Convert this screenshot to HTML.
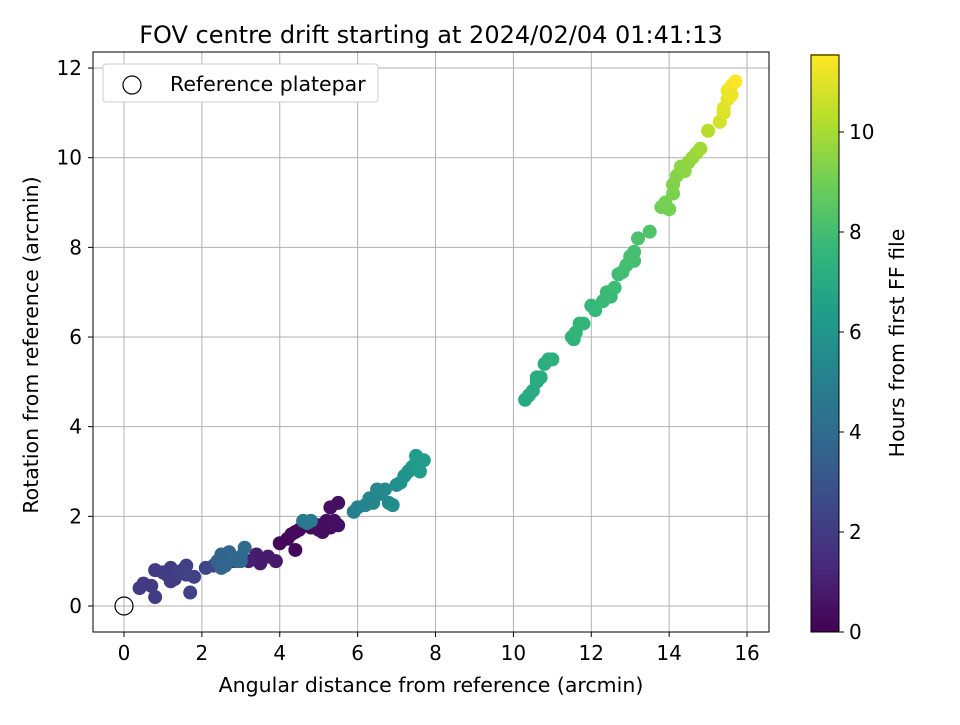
<!DOCTYPE html>
<html><head><meta charset="utf-8"><style>
body{margin:0;background:#fff;font-family:"Liberation Sans","DejaVu Sans",sans-serif}
svg text{font-family:"DejaVu Sans","Liberation Sans",sans-serif;fill:#000}
</style></head><body>
<svg id="c" width="960" height="720" xmlns="http://www.w3.org/2000/svg">
<rect width="960" height="720" fill="#fff"/>
<text x="431" y="43" font-size="24" text-anchor="middle">FOV centre drift starting at 2024/02/04 01:41:13</text>
<g id="grid"></g><g id="pts"></g>
<rect x="93" y="52" width="676" height="580" fill="none" stroke="#000" stroke-width="1"/>
<g id="ticks"></g>
<text x="431" y="692" font-size="20.5" text-anchor="middle">Angular distance from reference (arcmin)</text>
<text transform="translate(38,345) rotate(-90)" font-size="20.5" text-anchor="middle">Rotation from reference (arcmin)</text>
<g>
<rect x="103" y="64" width="275" height="38" rx="3" fill="#fff" stroke="#ccc"/>
<circle cx="132" cy="85" r="9" fill="none" stroke="#000" stroke-width="1.2"/>
<text x="170" y="91" font-size="20.5">Reference platepar</text>
</g>
<g id="cbar"></g>
<text transform="translate(904,343) rotate(-90)" font-size="20.5" text-anchor="middle">Hours from first FF file</text>
</svg>
<script>
const xs=[4,4.2,4.3,4.4,4.5,4.8,5,5.1,5.2,5.3,5.4,5.5,5.5,5.3,5.0,4.4,3.9,3.5,3.7,3.4,3.2,2.8,
0.4,0.5,0.7,0.8,0.8,1.0,1.1,1.2,1.2,1.3,1.4,1.5,1.6,1.6,1.7,1.8,2.1,2.3,
2.4,2.5,2.5,2.6,2.7,2.8,3.0,3.1,3.0,2.9,
4.6,4.7,4.8,5.9,6.0,6.2,6.4,6.6,6.7,6.8,6.9,7.0,7.1,7.2,7.3,7.4,7.5,7.5,7.6,7.7,6.5,6.3,
10.3,10.4,10.5,10.6,10.7,10.8,10.9,11.0,10.6,11.5,11.6,11.7,11.8,12.0,12.1,12.3,12.4,12.6,12.7,12.8,12.9,13.0,13.1,13.2,13.5,12.5,11.55,13.1,
13.8,13.9,14.0,14.1,14.1,14.2,14.3,14.4,14.5,14.6,14.7,14.8,15.0,
15.3,15.4,15.4,15.5,15.5,15.6,15.7,15.6];
const ys=[1.4,1.5,1.6,1.65,1.7,1.75,1.8,1.65,1.9,2.2,1.9,2.3,1.8,1.75,1.7,1.25,1.0,0.95,1.1,1.15,1.0,1.0,
0.4,0.5,0.45,0.2,0.8,0.75,0.7,0.85,0.55,0.6,0.75,0.8,0.9,0.7,0.3,0.65,0.85,0.9,
1.0,1.15,0.85,0.9,1.2,1.05,1.1,1.3,1.0,1.0,
1.9,1.85,1.9,2.1,2.2,2.25,2.3,2.5,2.6,2.3,2.25,2.7,2.75,2.9,3.0,3.1,3.2,3.35,3.0,3.25,2.6,2.4,
4.6,4.7,4.8,5.0,5.1,5.4,5.5,5.5,5.1,6.0,6.1,6.3,6.3,6.7,6.6,6.8,7.0,7.1,7.4,7.45,7.6,7.8,7.9,8.2,8.35,6.9,5.95,7.7,
8.9,9.0,8.85,9.2,9.4,9.6,9.8,9.7,9.9,10.0,10.1,10.2,10.6,
10.8,11.0,11.1,11.3,11.5,11.6,11.7,11.4];
const hs=[0.2,0.2,0.25,0.3,0.3,0.35,0.4,0.4,0.4,0.5,0.5,0.5,0.45,0.45,0.4,0.2,0.8,0.9,0.9,0.9,1.0,1.1,
2.0,2.0,2.0,2.1,2.0,2.0,2.1,2.0,2.1,2.1,2.2,2.2,2.2,2.3,2.3,2.3,2.4,2.5,
3.6,3.7,3.7,3.8,3.8,3.9,3.9,4.0,4.0,3.8,
4.6,4.7,4.7,5.0,5.1,5.2,5.3,5.4,5.5,5.5,5.6,5.7,5.8,5.9,6.0,6.1,6.2,6.3,6.3,6.3,5.4,5.3,
7.0,7.0,7.1,7.1,7.2,7.2,7.3,7.3,7.1,7.5,7.5,7.6,7.6,7.7,7.7,7.8,7.8,7.9,7.9,8.0,8.0,8.1,8.1,8.2,8.3,7.8,7.5,8.1,
9.0,9.1,9.1,9.2,9.3,9.4,9.5,9.5,9.6,9.7,9.8,9.9,10.3,
10.8,10.9,11.0,11.1,11.2,11.3,11.5,11.2];
const xTicks=[0,2,4,6,8,10,12,14,16], yTicks=[0,2,4,6,8,10,12], cTicks=[0,2,4,6,8,10];
const X=v=>124+v*38.94, Y=v=>606-v*44.83, C=v=>632-v*50;
const vir=[[68,1,84],[72,40,120],[62,73,137],[49,104,142],[38,130,142],[31,158,137],[53,183,121],[110,206,88],[181,222,43],[253,231,37]];
function col(h){let t=Math.max(0,Math.min(1,h/11.54))*9,i=Math.min(8,Math.floor(t)),f=t-i,a=vir[i],b=vir[i+1];
return `rgb(${a.map((v,k)=>Math.round(v+(b[k]-v)*f)).join(',')})`;}
const NS='http://www.w3.org/2000/svg';
function mk(tag,at,par){const e=document.createElementNS(NS,tag);for(const k in at)e.setAttribute(k,at[k]);document.getElementById(par).appendChild(e);return e;}
xTicks.forEach(v=>{const g=mk('line',{x1:X(v),x2:X(v),y1:52,y2:632,stroke:'#b0b0b0','stroke-width':1},'grid');


mk('line',{x1:X(v),x2:X(v),y1:632,y2:637,stroke:'#000'},'ticks');
const t=mk('text',{x:X(v),y:660,'font-size':20,'text-anchor':'middle'},'ticks');t.textContent=v;

});
yTicks.forEach(v=>{const g=mk('line',{x1:93,x2:769,y1:Y(v),y2:Y(v),stroke:'#b0b0b0','stroke-width':1},'grid');


mk('line',{x1:88,x2:93,y1:Y(v),y2:Y(v),stroke:'#000'},'ticks');
const t=mk('text',{x:82,y:Y(v)+7,'font-size':20,'text-anchor':'end'},'ticks');t.textContent=v;

});
xs.forEach((x,i)=>{const p=mk('circle',{cx:X(x),cy:Y(ys[i]),r:7,fill:col(hs[i])},'pts');

});
const ref=mk('circle',{cx:X(0),cy:Y(0),r:9,fill:'none',stroke:'#000','stroke-width':1.2},'pts');


for(let h=0;h<11.54;h+=0.05){mk('rect',{x:811,y:C(h+0.05)-0.5,width:28,height:3.5,fill:col(h+0.025)},'cbar');}
const cf=mk('rect',{x:811,y:55,width:28,height:577,fill:'none',stroke:'#000'},'cbar');


cTicks.forEach(v=>{mk('line',{x1:839,x2:844,y1:C(v),y2:C(v),stroke:'#000'},'cbar');
const t=mk('text',{x:849,y:C(v)+7,'font-size':20},'cbar');t.textContent=v;

});
</script>
</body></html>
